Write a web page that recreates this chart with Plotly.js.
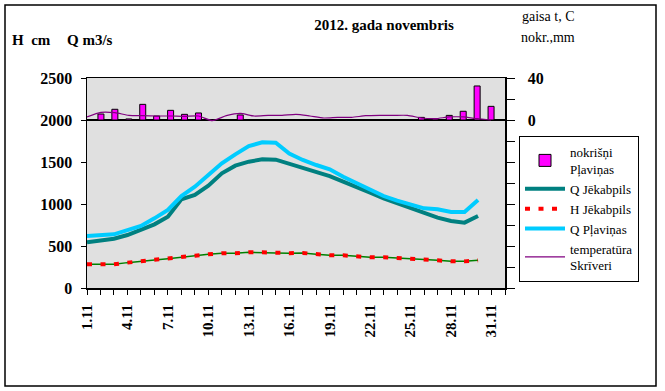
<!DOCTYPE html>
<html>
<head>
<meta charset="utf-8">
<script src="https://cdn.plot.ly/plotly-3.0.1.min.js"></script>
<style>
  html, body { margin: 0; padding: 0; background: #ffffff; }
  #chart { width: 665px; height: 391px; }
</style>
</head>
<body>
<div id="chart"></div>
<script>
// ---- data ----
const dates = ["1.11","2.11","3.11","4.11","5.11","6.11","7.11","8.11","9.11","10.11",
  "11.11","12.11","13.11","14.11","15.11","16.11","17.11","18.11","19.11","20.11",
  "21.11","22.11","23.11","24.11","25.11","26.11","27.11","28.11","29.11","30.11"];

const qJekabpils = [544, 560, 587, 631, 690, 758, 849, 1056, 1107, 1218,
  1365, 1456, 1504, 1532, 1528, 1480, 1433, 1385, 1333, 1266,
  1206, 1135, 1067, 1008, 952, 897, 837, 798, 778, 857];

const hJekabpils = [282, 282, 282, 302, 321, 333, 349, 369, 385, 401,
  413, 413, 425, 425, 417, 415, 417, 401, 389, 389,
  377, 365, 365, 357, 345, 345, 329, 317, 317, 329];

const qPlavinas = [619, 627, 639, 690, 738, 829, 929, 1095, 1206, 1345,
  1484, 1591, 1690, 1734, 1730, 1600, 1524, 1464, 1413, 1325,
  1246, 1167, 1095, 1040, 988, 948, 937, 905, 905, 1048];

const precipPlavinas = [0, 5.7, 10.2, 1.0, 14.9, 3.8, 9.2, 5.4, 6.7, 0,
  0, 4.8, 0, 0, 0, 0, 0, 0, 0, 0,
  0, 0, 0, 0, 2.5, 1.0, 4.4, 8.3, 32.4, 13.0];

const tempSkriveri = [2.9, 7.3, 7.0, 4.4, 4.1, 3.8, 3.8, 3.5, 3.8, -0.6,
  4.1, 6.3, 3.8, 4.4, 4.4, 5.4, 3.8, 1.9, 2.5, 2.5,
  4.1, 4.4, 4.4, 4.4, 1.9, 1.3, 2.9, 2.9, 1.3, 0.0];

const xTickLabels = ["1.11","4.11","7.11","10.11","13.11","16.11","19.11","22.11","25.11","28.11","31.11"];
const leftTicks = [0, 500, 1000, 1500, 2000, 2500];
const rightTickLabels = ["0", "40"];

// ---- positions derived from the data ----
const dayPos = dates.map((d, i) => i + 1);            // primary category positions
const slotPos = dates.map((d, i) => i);               // secondary category positions
const xTickVals = xTickLabels.map(s => parseInt(s, 10));
const rightTickVals = rightTickLabels.map(Number);

const serif = "'Liberation Serif', 'Times New Roman', 'DejaVu Serif', serif";

const traces = [
  {
    type: "bar", name: "nokrišņi<br>Pļaviņas",
    x: slotPos, y: precipPlavinas, xaxis: "x2", yaxis: "y2",
    width: 0.43,
    marker: { color: "#ff00ff", line: { color: "#000000", width: 1 } },
    legendgroup: "a", hoverinfo: "skip"
  },
  {
    type: "scatter", mode: "lines", name: "Q Jēkabpils",
    x: dayPos, y: qJekabpils,
    line: { color: "#008080", width: 4 },
    legendgroup: "b"
  },
  {
    type: "scatter", mode: "lines", name: "H Jēkabpils (line)", showlegend: false,
    x: dayPos, y: hJekabpils,
    line: { color: "#008000", width: 1.5 },
    legendgroup: "c"
  },
  {
    type: "scatter", mode: "lines", name: "H Jēkabpils",
    x: dayPos, y: hJekabpils,
    line: { color: "#ff0000", width: 4, dash: "5px,8.5px" },
    legendgroup: "c"
  },
  {
    type: "scatter", mode: "lines", name: "Q Pļaviņas",
    x: dayPos, y: qPlavinas,
    line: { color: "#00ccff", width: 4 },
    legendgroup: "d"
  },
  {
    type: "scatter", mode: "lines", name: "temperatūra<br>Skrīveri",
    x: slotPos, y: tempSkriveri, xaxis: "x2", yaxis: "y2",
    line: { color: "#800080", width: 1.2, shape: "spline", smoothing: 0.6 },
    legendgroup: "e"
  }
];

const layout = {
  width: 665, height: 391,
  margin: { l: 87, r: 160, t: 78, b: 103, pad: 0 },
  paper_bgcolor: "#ffffff",
  plot_bgcolor: "#e0e0e0",
  font: { family: serif, color: "#000000", size: 13 },
  showlegend: true,
  bargap: 0,
  title: {
    text: "<b>2012. gada novembris</b>",
    font: { family: serif, size: 15, color: "#000000" },
    x: 384 / 665, xref: "container", xanchor: "center",
    y: 1 - 25 / 391, yref: "container", yanchor: "middle"
  },
  xaxis: {
    type: "linear", range: [1, 32],
    tickmode: "array", tickvals: xTickVals, ticktext: xTickLabels,
    tickangle: -90,
    tickfont: { family: serif, size: 15, color: "#000000", weight: "bold" },
    ticks: "outside", ticklen: 5, tickcolor: "#000000", tickwidth: 1,
    minor: { tickmode: "linear", tick0: 1, dtick: 1, ticks: "outside", ticklen: 5, tickcolor: "#000000", tickwidth: 1, showgrid: false },
    ticklabelstandoff: 4,
    showline: true, linecolor: "#000000", linewidth: 1.5, mirror: true,
    showgrid: false, zeroline: false, fixedrange: true
  },
  yaxis: {
    range: [0, 2500],
    tickmode: "array", tickvals: leftTicks, ticktext: leftTicks.map(String),
    tickfont: { family: serif, size: 16, color: "#000000", weight: "bold" },
    ticks: "outside", ticklen: 5, tickcolor: "#000000", tickwidth: 1,
    ticklabelstandoff: 5,
    showline: true, linecolor: "#000000", linewidth: 1.5, mirror: true,
    showgrid: false, zeroline: false, fixedrange: true
  },
  xaxis2: {
    type: "linear", range: [0, 30], overlaying: "x", anchor: "y2",
    visible: false, showgrid: false, zeroline: false, fixedrange: true
  },
  yaxis2: {
    range: [-160, 40], overlaying: "y", side: "right", anchor: "x2",
    tickmode: "array", tickvals: rightTickVals, ticktext: rightTickLabels,
    tickfont: { family: serif, size: 16, color: "#000000", weight: "bold" },
    ticks: "outside", ticklen: 8, tickcolor: "#000000", tickwidth: 1,
    minor: { tickmode: "linear", tick0: 0, dtick: 20, ticks: "outside", ticklen: 8, tickcolor: "#000000", tickwidth: 1, showgrid: false },
    ticklabelstandoff: 10,
    showline: true, linecolor: "#000000", linewidth: 1.5,
    showgrid: false,
    zeroline: true, zerolinecolor: "#000000", zerolinewidth: 1.5,
    fixedrange: true
  },
  legend: {
    x: (519 - 87) / 418, xanchor: "left",
    y: (288 - 136) / 210, yanchor: "top",
    bgcolor: "#ffffff", bordercolor: "#000000", borderwidth: 1,
    font: { family: serif, size: 13, color: "#000000" },
    tracegroupgap: 9, itemwidth: 40, traceorder: "normal"
  },
  annotations: [
    { text: "<b>H\u00a0\u00a0cm</b>", xref: "paper", yref: "paper",
      x: (10 - 87) / 418, y: (288 - 40) / 210, xanchor: "left", yanchor: "middle",
      showarrow: false, font: { family: serif, size: 15, color: "#000000" } },
    { text: "<b>Q m3/s</b>", xref: "paper", yref: "paper",
      x: (65 - 87) / 418, y: (288 - 40) / 210, xanchor: "left", yanchor: "middle",
      showarrow: false, font: { family: serif, size: 15, color: "#000000" } },
    { text: "gaisa t, C", xref: "paper", yref: "paper",
      x: (520 - 87) / 418, y: (288 - 17) / 210, xanchor: "left", yanchor: "middle",
      showarrow: false, font: { family: serif, size: 14, color: "#000000" } },
    { text: "nokr.,mm", xref: "paper", yref: "paper",
      x: (519 - 87) / 418, y: (288 - 37) / 210, xanchor: "left", yanchor: "middle",
      showarrow: false, font: { family: serif, size: 14, color: "#000000" } }
  ],
  shapes: [
    { type: "rect", xref: "paper", yref: "paper",
      x0: (5 - 87) / 418, x1: (656 - 87) / 418,
      y0: (288 - 386) / 210, y1: (288 - 5) / 210,
      line: { color: "#000000", width: 1.5 }, fillcolor: "rgba(0,0,0,0)", layer: "below" }
  ]
};

Plotly.newPlot("chart", traces, layout, { displayModeBar: false, staticPlot: true });
</script>
</body>
</html>
